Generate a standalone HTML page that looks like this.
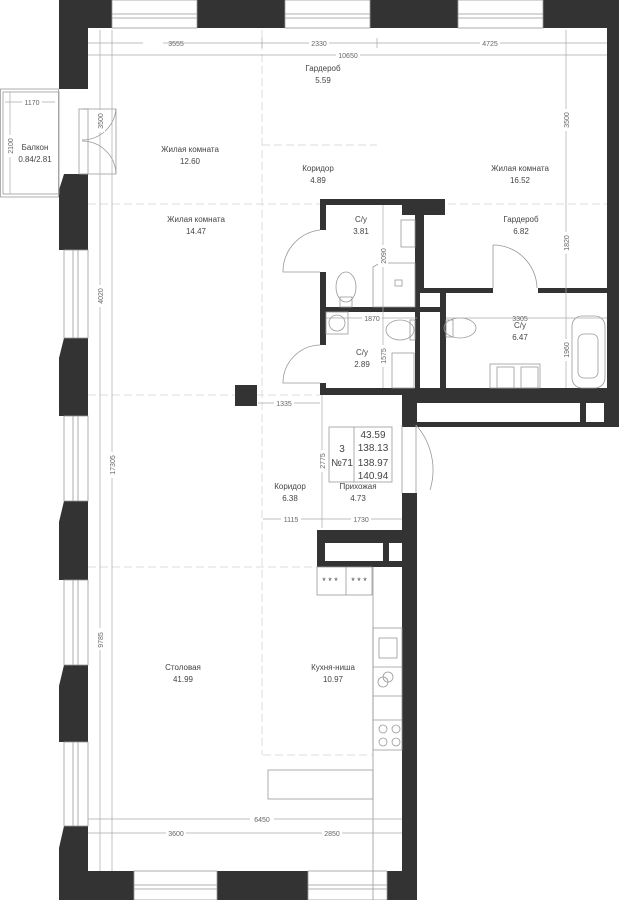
<!DOCTYPE html>
<html><head><meta charset="utf-8"><style>
html,body{margin:0;padding:0;background:#fff;}
svg{display:block;}
text{font-family:"Liberation Sans","DejaVu Sans",sans-serif;fill:#444;}
.l{font-size:8px;text-anchor:middle;}
.d{font-size:7px;text-anchor:middle;fill:#666;}
</style></head><body>
<svg width="619" height="900" viewBox="0 0 619 900" xmlns="http://www.w3.org/2000/svg">
<g fill="none" stroke="#ddd" stroke-width="1" stroke-dasharray="8,4">
<line x1="88" y1="204" x2="607" y2="204"/>
<line x1="88" y1="395" x2="320" y2="395"/>
<line x1="262" y1="30" x2="262" y2="755"/>
<line x1="262" y1="145" x2="377" y2="145"/>
<line x1="88" y1="567" x2="317" y2="567"/>
<line x1="263" y1="755" x2="373" y2="755"/>
</g>
<g fill="#333">
<rect x="59" y="0" width="53" height="28"/>
<rect x="197" y="0" width="88" height="28"/>
<rect x="370" y="0" width="88" height="28"/>
<rect x="543" y="0" width="76" height="28"/>
<rect x="59" y="0" width="29" height="89"/>
<rect x="607" y="0" width="12" height="427"/>
<polygon points="64,174 88,174 88,250 59,250 59,190"/>
<polygon points="64,338 88,338 88,416 59,416 59,358"/>
<polygon points="64,501 88,501 88,580 59,580 59,522"/>
<polygon points="64,665 88,665 88,742 59,742 59,686"/>
<polygon points="64,826 88,826 88,900 59,900 59,848"/>
<rect x="59" y="871" width="75" height="29"/>
<rect x="217" y="871" width="91" height="29"/>
<rect x="387" y="871" width="30" height="29"/>
<rect x="402" y="395" width="15" height="30"/>
<rect x="402" y="493" width="15" height="407"/>
<rect x="320" y="199" width="125" height="6"/>
<rect x="402" y="199" width="43" height="16"/>
<rect x="320" y="199" width="6" height="31"/>
<rect x="320" y="272" width="6" height="73"/>
<rect x="320" y="383" width="6" height="12"/>
<rect x="415" y="205" width="5" height="190"/>
<rect x="418" y="205" width="6" height="88"/>
<rect x="320" y="307" width="120" height="5"/>
<rect x="418" y="288" width="75" height="5"/>
<rect x="538" y="288" width="69" height="5"/>
<rect x="440" y="293" width="6" height="97"/>
<rect x="320" y="388" width="287" height="7"/>
<path d="M402 388H607V427H402Z M417 403V422H580V403Z M586 403V422H604V403Z" fill-rule="evenodd"/>
<path d="M317 530H402V567H317Z M325 543V561H383V543Z M389 543V561H402V543Z" fill-rule="evenodd"/>
<rect x="235" y="385" width="22" height="21"/>
</g>
<g fill="none" stroke="#999" stroke-width="0.8">
<rect x="112" y="0" width="85" height="28"/><line x1="112" y1="14" x2="197" y2="14"/><line x1="112" y1="18" x2="197" y2="18"/>
<rect x="285" y="0" width="85" height="28"/><line x1="285" y1="14" x2="370" y2="14"/><line x1="285" y1="18" x2="370" y2="18"/>
<rect x="458" y="0" width="85" height="28"/><line x1="458" y1="14" x2="543" y2="14"/><line x1="458" y1="18" x2="543" y2="18"/>
<rect x="134" y="871" width="83" height="29"/><line x1="134" y1="885" x2="217" y2="885"/><line x1="134" y1="889" x2="217" y2="889"/>
<rect x="308" y="871" width="79" height="29"/><line x1="308" y1="885" x2="387" y2="885"/><line x1="308" y1="889" x2="387" y2="889"/>
<rect x="64" y="250" width="24" height="88"/><line x1="73" y1="250" x2="73" y2="338"/><line x1="78" y1="250" x2="78" y2="338"/>
<rect x="64" y="416" width="24" height="85"/><line x1="73" y1="416" x2="73" y2="501"/><line x1="78" y1="416" x2="78" y2="501"/>
<rect x="64" y="580" width="24" height="85"/><line x1="73" y1="580" x2="73" y2="665"/><line x1="78" y1="580" x2="78" y2="665"/>
<rect x="64" y="742" width="24" height="84"/><line x1="73" y1="742" x2="73" y2="826"/><line x1="78" y1="742" x2="78" y2="826"/>
<rect x="0.5" y="89" width="58" height="108"/><rect x="3" y="92" width="56" height="102"/>
<rect x="79" y="109" width="9" height="65"/>
<path d="M82 109 H116 V174 H82"/>
<path d="M116 109 A34 34 0 0 1 82 140 M116 174 A34 34 0 0 0 82 141"/>
<path d="M320 230 A42 42 0 0 0 283 272 H320"/>
<path d="M320 345 A38 38 0 0 0 283 383 H320"/>
<path d="M493 245 V288 M493 245 A44 44 0 0 1 537 288"/>
<path d="M402 425 V493 M416 425 V493 M416 425 A68 68 0 0 1 430 490"/>
<rect x="401" y="220" width="14" height="27"/>
<path d="M373 267 L380 263 H415 V307 H373Z"/>
<rect x="395" y="280" width="7" height="6"/>
<ellipse cx="346" cy="287" rx="10" ry="15"/><rect x="340" y="297" width="12" height="10"/>
<rect x="326" y="312" width="22" height="22"/><circle cx="337" cy="323" r="8"/>
<ellipse cx="400" cy="330" rx="14" ry="10"/><rect x="410" y="320" width="5" height="20"/>
<rect x="392" y="353" width="22" height="35"/>
<ellipse cx="460" cy="328" rx="16" ry="10"/><rect x="446" y="320" width="7" height="17"/>
<rect x="490" y="364" width="50" height="24"/><rect x="497" y="367" width="17" height="21"/><rect x="521" y="367" width="17" height="21"/>
<rect x="572" y="316" width="33" height="72" rx="10"/><rect x="578" y="334" width="20" height="44" rx="6"/>
<rect x="317" y="567" width="55" height="28"/><line x1="346" y1="567" x2="346" y2="595"/>
<rect x="373" y="628" width="29" height="122"/>
<line x1="373" y1="667" x2="402" y2="667"/><line x1="373" y1="696" x2="402" y2="696"/><line x1="373" y1="720" x2="402" y2="720"/>
<line x1="373" y1="567" x2="373" y2="900"/>
<rect x="379" y="638" width="18" height="20"/>
<circle cx="383" cy="682" r="5"/><circle cx="388" cy="677" r="5"/>
<circle cx="383" cy="729" r="4"/><circle cx="396" cy="729" r="4"/><circle cx="383" cy="742" r="4"/><circle cx="396" cy="742" r="4"/>
<rect x="268" y="770" width="105" height="29"/>
<rect x="329" y="427" width="63" height="55"/><line x1="354" y1="427" x2="354" y2="482"/>
</g>
<g stroke="#aaa" stroke-width="0.7" fill="none">
<line x1="88" y1="43" x2="607" y2="43"/><line x1="88" y1="55" x2="607" y2="55"/>
<line x1="262" y1="38" x2="262" y2="48"/><line x1="377" y1="38" x2="377" y2="48"/>
<line x1="100" y1="30" x2="100" y2="871"/><line x1="112" y1="30" x2="112" y2="871"/>
<line x1="566" y1="30" x2="566" y2="388"/>
<line x1="383" y1="205" x2="383" y2="388"/>
<line x1="326" y1="318" x2="417" y2="318"/><line x1="446" y1="318" x2="607" y2="318"/>
<line x1="258" y1="403" x2="320" y2="403"/>
<line x1="322" y1="395" x2="322" y2="528"/>
<line x1="263" y1="519" x2="402" y2="519"/>
<line x1="88" y1="819" x2="402" y2="819"/><line x1="88" y1="833" x2="402" y2="833"/>
<line x1="5" y1="102" x2="55" y2="102"/><line x1="10" y1="92" x2="10" y2="194"/>
</g>
<g fill="#fff">
<rect x="143" y="38" width="20" height="10"/><rect x="309" y="38" width="20" height="10"/><rect x="480" y="38" width="20" height="10"/>
<rect x="336" y="50" width="24" height="10"/>
<rect x="22" y="97" width="20" height="10"/>
<rect x="95" y="110" width="10" height="22"/><rect x="95" y="285" width="10" height="22"/><rect x="107" y="452" width="10" height="26"/><rect x="95" y="628" width="10" height="22"/>
<rect x="561" y="109" width="10" height="22"/><rect x="561" y="232" width="10" height="22"/><rect x="561" y="339" width="10" height="22"/>
<rect x="378" y="245" width="10" height="22"/><rect x="378" y="345" width="10" height="22"/>
<rect x="362" y="313" width="20" height="10"/>
<rect x="274" y="398" width="20" height="10"/>
<rect x="317" y="450" width="10" height="22"/>
<rect x="281" y="514" width="20" height="10"/><rect x="351" y="514" width="20" height="10"/>
<rect x="250" y="814" width="24" height="10"/><rect x="166" y="828" width="20" height="10"/><rect x="322" y="828" width="20" height="10"/>
<rect x="5" y="135" width="10" height="22"/>
</g>
<g>
<text x="176" y="46" class="d">3555</text><text x="319" y="46" class="d">2330</text><text x="490" y="46" class="d">4725</text>
<text x="348" y="58" class="d">10650</text>
<text x="32" y="105" class="d">1170</text>
<text x="372" y="321" class="d">1870</text><text x="520" y="321" class="d">3305</text>
<text x="284" y="406" class="d">1335</text>
<text x="291" y="522" class="d">1115</text><text x="361" y="522" class="d">1730</text>
<text x="262" y="822" class="d">6450</text><text x="176" y="836" class="d">3600</text><text x="332" y="836" class="d">2850</text>
<text class="d" transform="translate(103,121) rotate(-90)">3500</text>
<text class="d" transform="translate(103,296) rotate(-90)">4020</text>
<text class="d" transform="translate(115,465) rotate(-90)">17305</text>
<text class="d" transform="translate(103,640) rotate(-90)">9785</text>
<text class="d" transform="translate(569,120) rotate(-90)">3500</text>
<text class="d" transform="translate(569,243) rotate(-90)">1820</text>
<text class="d" transform="translate(569,350) rotate(-90)">1960</text>
<text class="d" transform="translate(386,256) rotate(-90)">2090</text>
<text class="d" transform="translate(386,356) rotate(-90)">1575</text>
<text class="d" transform="translate(325,461) rotate(-90)">2775</text>
<text class="d" transform="translate(13,146) rotate(-90)">2100</text>
</g>
<g>
<text x="35" y="150" class="l">Балкон</text><text x="35" y="162" class="l">0.84/2.81</text>
<text x="323" y="71" class="l">Гардероб</text><text x="323" y="83" class="l">5.59</text>
<text x="190" y="152" class="l">Жилая комната</text><text x="190" y="164" class="l">12.60</text>
<text x="318" y="171" class="l">Коридор</text><text x="318" y="183" class="l">4.89</text>
<text x="520" y="171" class="l">Жилая комната</text><text x="520" y="183" class="l">16.52</text>
<text x="196" y="222" class="l">Жилая комната</text><text x="196" y="234" class="l">14.47</text>
<text x="361" y="222" class="l">С/у</text><text x="361" y="234" class="l">3.81</text>
<text x="521" y="222" class="l">Гардероб</text><text x="521" y="234" class="l">6.82</text>
<text x="520" y="328" class="l">С/у</text><text x="520" y="340" class="l">6.47</text>
<text x="362" y="355" class="l">С/у</text><text x="362" y="367" class="l">2.89</text>
<text x="290" y="489" class="l">Коридор</text><text x="290" y="501" class="l">6.38</text>
<text x="358" y="489" class="l">Прихожая</text><text x="358" y="501" class="l">4.73</text>
<text x="183" y="670" class="l">Столовая</text><text x="183" y="682" class="l">41.99</text>
<text x="333" y="670" class="l">Кухня-ниша</text><text x="333" y="682" class="l">10.97</text>
<text x="330" y="584" class="l" style="font-size:9px">* * *</text><text x="359" y="584" class="l" style="font-size:9px">* * *</text>
</g>
<g style="font-size:10px" fill="#333">
<text x="342" y="452" text-anchor="middle">3</text>
<text x="342" y="466" text-anchor="middle">№71</text>
<text x="373" y="438" text-anchor="middle">43.59</text>
<text x="373" y="451" text-anchor="middle">138.13</text>
<text x="373" y="466" text-anchor="middle">138.97</text>
<text x="373" y="479" text-anchor="middle">140.94</text>
</g>
</svg>
</body></html>
